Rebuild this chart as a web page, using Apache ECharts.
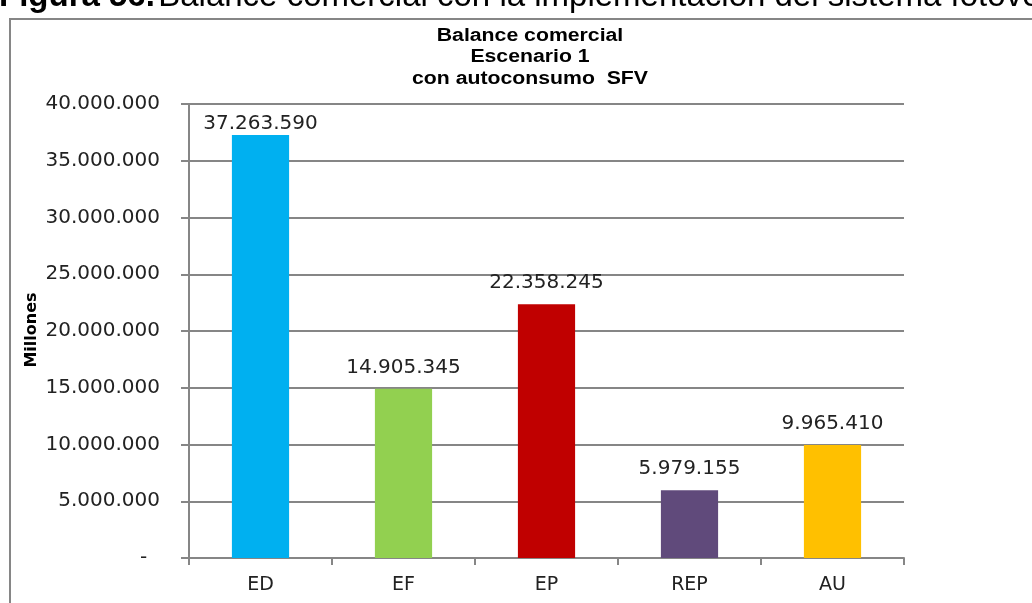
<!DOCTYPE html>
<html>
<head>
<meta charset="utf-8">
<script src="https://cdn.jsdelivr.net/npm/echarts@6/dist/echarts.min.js"></script>
<style>html,body{margin:0;padding:0;background:#fff;}#c{width:1032px;height:603px;}</style>
</head>
<body>
<div id="c"></div>
<script>
const categories = ['ED', 'EF', 'EP', 'REP', 'AU'];
const values = [37263590, 14905345, 22358245, 5979155, 9965410];
const barColors = ['#00B0F0', '#92D050', '#C00000', '#604A7B', '#FFC000'];
const titleLines = ['Balance comercial', 'Escenario 1', 'con autoconsumo  SFV'];
const captionBold = 'Figura 56.';
const captionText = 'Balance comercial con la implementación del sistema fotovoltaico';
const yAxisName = 'Millones';

function fmt(v) {
  if (v === 0) return '-\u00a0\u00a0';
  return String(Math.round(v)).replace(/\B(?=(\d{3})+(?!\d))/g, '.');
}

const chart = echarts.init(document.getElementById('c'));
chart.setOption({
  animation: false,
  backgroundColor: '#fff',
  graphic: [
    { type: 'rect', shape: { x: 10, y: 19, width: 1040, height: 600 }, style: { fill: 'none', stroke: '#868686', lineWidth: 2 }, z: -1 },
    { type: 'text', x: -1, y: -3, z: -2, style: { rich: { b: { fontWeight: 'bold', fontSize: 33, fontFamily: 'Liberation Sans' }, n: { fontSize: 33, fontFamily: 'Liberation Sans' } }, text: '{b|' + captionBold + '} {n|' + captionText + '}', fill: '#000', verticalAlign: 'middle' } },
    { type: 'rect', shape: { x: 0, y: 18, width: 1032, height: 30 }, style: { fill: '#fff' }, z: -1.5 },
    { type: 'text', x: 530, y: 25, scaleX: 1.18, style: { text: titleLines.join('\n'), textAlign: 'center', verticalAlign: 'top', fontFamily: 'Liberation Sans', fontWeight: 'bold', fontSize: 18, lineHeight: 21.5, fill: '#000' } },
    { type: 'text', x: 32, y: 330, rotation: Math.PI / 2, style: { text: yAxisName, textAlign: 'center', verticalAlign: 'middle', fontFamily: 'DejaVu Sans', fontWeight: 'bold', fontSize: 16, fill: '#000' } }
  ],
  grid: { left: 189, right: 128, top: 104, bottom: 45 },
  xAxis: {
    type: 'category', data: categories,
    axisLine: { lineStyle: { color: '#868686', width: 2 } },
    axisTick: { show: true, length: 7, lineStyle: { color: '#868686', width: 2 } },
    axisLabel: { margin: 18, fontFamily: 'DejaVu Sans', fontSize: 19, color: '#222' }
  },
  yAxis: {
    type: 'value', min: 0, max: 40000000, interval: 5000000,
    axisLine: { show: true, lineStyle: { color: '#868686', width: 2 } },
    axisTick: { show: true, length: 8, lineStyle: { color: '#868686', width: 2 } },
    splitLine: { lineStyle: { color: '#868686', width: 2 } },
    axisLabel: { margin: 29, fontFamily: 'DejaVu Sans', fontSize: 20, color: '#222', formatter: fmt }
  },
  series: [{
    type: 'bar', barWidth: '40%',
    data: values.map((v, i) => ({
      value: v,
      itemStyle: { color: barColors[i] },
      label: { distance: i === 0 ? 1 : 11 }
    })),
    label: { show: true, position: 'top', fontFamily: 'DejaVu Sans', fontSize: 20, color: '#222', formatter: p => fmt(p.value) }
  }]
});
</script>
</body>
</html>
